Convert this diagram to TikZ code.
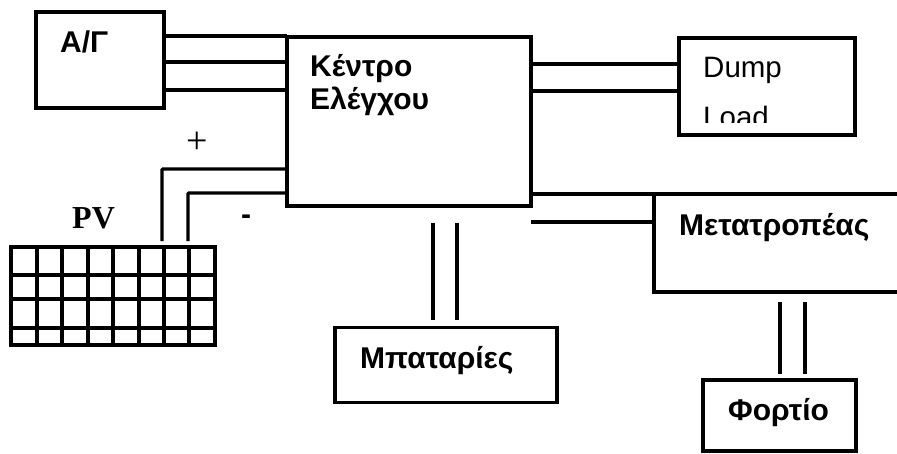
\documentclass[tikz,border=0pt]{standalone}
\usepackage{fontspec}
\setmainfont{Liberation Sans}
\newfontfamily\pvfont{Liberation Serif}
\tikzset{
  blockbox/.style={draw,line width=3.8pt,inner sep=0pt,outer sep=0pt},
  wire/.style={line width=3.4pt},
  cell/.style={line width=3.6pt,line cap=rect},
  lab/.style={anchor=base west,inner sep=0pt,font=\fontsize{30}{30}\selectfont\bfseries},
  thinlab/.style={anchor=base west,inner sep=0pt,font=\fontsize{29.5}{30}\selectfont}
}
\begin{document}
\begin{tikzpicture}[x=1pt,y=-1pt]
  \useasboundingbox (0,0) rectangle (897,453);

  % blocks
  \node[blockbox,minimum width=128pt,minimum height=96pt] (ag) at (100,60) {};
  \node[blockbox,minimum width=244pt,minimum height=169pt] (kentro) at (409,121.5) {};
  \node[blockbox,minimum width=176pt,minimum height=97pt] (dump) at (767,86.5) {};
  \node[blockbox,minimum width=222pt,minimum height=75pt] (batt) at (446,365) {};
  \node[inner sep=0pt,outer sep=0pt,minimum width=243pt,minimum height=98pt] (metat) at (775.5,243) {};
  \draw[blockbox] (metat.north east) -- (metat.north west) -- (metat.south west) -- (metat.south east);
  \node[blockbox,minimum width=153pt,minimum height=71pt] (fortio) at (779.5,415.5) {};

  % pv panel
  \node[inner sep=0pt,outer sep=0pt,minimum width=204pt,minimum height=98pt] (panel) at (113,296) {};
  \foreach \x in {11,37,62,88,113,139,164,189,215}
    \draw[cell] (\x,0 |- panel.north) -- (\x,0 |- panel.south);
  \foreach \y in {247,275,299,328,345}
    \draw[cell] (panel.west |- 0,\y) -- (panel.east |- 0,\y);

  % labels
  \node[lab] (aglabel) at (60,52) {Α/Γ};
  \node[lab] (kentrolabel) at (310,76) {Κέντρο};
  \node[lab] (elegxlabel) at (310,109) {Ελέγχου};
  \node[thinlab] (dumplabel) at (703,77) {Dump};
  \begin{scope}
    \clip (690,100) rectangle (845,122);
    \node[thinlab] (loadlabel) at (703,127) {Load};
  \end{scope}
  \node[lab] (metatlabel) at (679,235) {Μετατροπέας};
  \node[lab] (battlabel) at (360,368) {Μπαταρίες};
  \node[lab] (fortiolabel) at (728,420) {Φορτίο};
  \node[anchor=base west,inner sep=0pt,font=\fontsize{32}{32}\selectfont\pvfont\bfseries] (pvlabel) at (72,228) {PV};
  \node[inner sep=0pt,font=\fontsize{38}{38}\selectfont\pvfont] (plus) at (197,143) {+};
  \node[inner sep=0pt,font=\fontsize{30}{30}\selectfont\bfseries] (minus) at (246,220) {-};

  % generator and dump load
  \foreach \y in {36,62,90}
    \draw[wire] (ag.east |- 0,\y) -- (kentro.west |- 0,\y);
  \foreach \y in {64,91}
    \draw[wire] (kentro.east |- 0,\y) -- (dump.west |- 0,\y);

  % pv
  \coordinate (pvplus) at (162,241);
  \coordinate (pvminus) at (188,241);
  \draw[wire,rounded corners=1pt] (pvplus) |- (kentro.west |- 0,169);
  \draw[wire,rounded corners=1pt] (pvminus) |- (kentro.west |- 0,193);

  % converter
  \draw[wire] (kentro.east |- 0,222) -- (metat.west |- 0,222);
  \draw[wire] (kentro.east |- 0,194) -- (metat.west |- 0,194);
  \foreach \x in {780,805}
    \draw[wire] (\x,302) -- (\x,374);

  % batteries
  \coordinate (battone) at (433,223);
  \coordinate (batttwo) at (457,223);
  \draw[wire] (battone) -- (battone |- 0,320);
  \draw[wire] (batttwo) -- (batttwo |- 0,320);
\end{tikzpicture}
\end{document}
